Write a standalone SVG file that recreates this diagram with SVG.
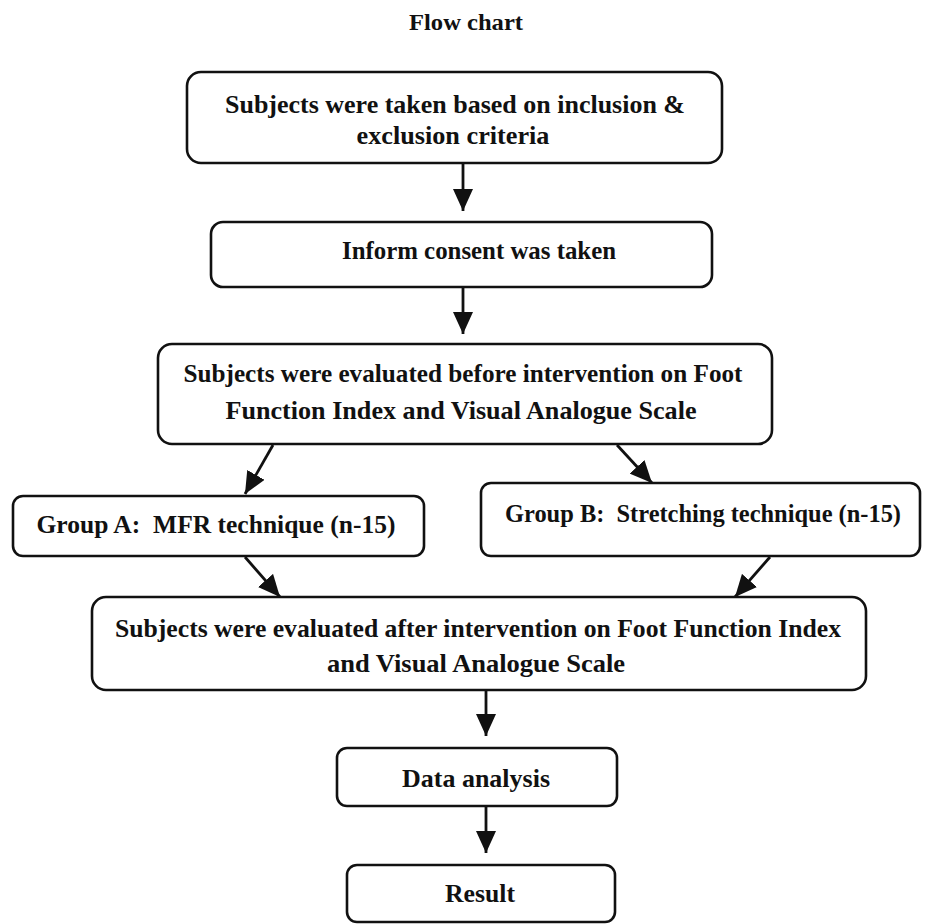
<svg xmlns="http://www.w3.org/2000/svg" width="925" height="924" viewBox="0 0 925 924">
<style>
.box{fill:#fff;stroke:#111;stroke-width:2.6}
.t{font-family:"Liberation Serif","Times New Roman",serif;font-weight:bold;font-size:26px;fill:#111;text-anchor:middle;white-space:pre}
.c{stroke:#111;stroke-width:2.8;fill:none}
</style>
<defs>
<marker id="ah" markerUnits="userSpaceOnUse" markerWidth="22" markerHeight="20" refX="22" refY="10" orient="auto" viewBox="0 0 22 20">
<path d="M0,0 L22,10 L0,20 Z" fill="#111"/>
</marker>
</defs>
<rect width="925" height="924" fill="#fff"/>
<text class="t" x="466" y="30" style="font-size:24px" textLength="114" lengthAdjust="spacingAndGlyphs">Flow chart</text>
<g id="n1">
<rect class="box" x="187" y="72" width="535" height="91" rx="14"/>
<text class="t" x="455" y="113" textLength="460" lengthAdjust="spacingAndGlyphs">Subjects were taken based on inclusion &amp;</text>
<text class="t" x="453" y="144" textLength="193" lengthAdjust="spacingAndGlyphs">exclusion criteria</text>
</g>
<g id="n2">
<rect class="box" x="211" y="222" width="501" height="65" rx="12"/>
<text class="t" x="479" y="259" textLength="274" lengthAdjust="spacingAndGlyphs">Inform consent was taken</text>
</g>
<g id="n3">
<rect class="box" x="158" y="344" width="614" height="100" rx="14"/>
<text class="t" x="463" y="382" textLength="559" lengthAdjust="spacingAndGlyphs">Subjects were evaluated before intervention on Foot</text>
<text class="t" x="461" y="419" textLength="471" lengthAdjust="spacingAndGlyphs">Function Index and Visual Analogue Scale</text>
</g>
<g id="nA">
<rect class="box" x="13" y="496" width="411" height="60" rx="10"/>
<text class="t" x="216" y="533" textLength="359" lengthAdjust="spacingAndGlyphs">Group A:  MFR technique (n-15)</text>
</g>
<g id="nB">
<rect class="box" x="481" y="483" width="439" height="73" rx="10"/>
<text class="t" x="703" y="522" textLength="396" lengthAdjust="spacingAndGlyphs">Group B:  Stretching technique (n-15)</text>
</g>
<g id="n4">
<rect class="box" x="92" y="597" width="774" height="93" rx="14"/>
<text class="t" x="478" y="637" textLength="726" lengthAdjust="spacingAndGlyphs">Subjects were evaluated after intervention on Foot Function Index</text>
<text class="t" x="476" y="672" textLength="298" lengthAdjust="spacingAndGlyphs">and Visual Analogue Scale</text>
</g>
<g id="n5">
<rect class="box" x="337" y="748" width="280" height="58" rx="10"/>
<text class="t" x="476" y="787" textLength="148" lengthAdjust="spacingAndGlyphs">Data analysis</text>
</g>
<g id="n6">
<rect class="box" x="347" y="865" width="268" height="57" rx="10"/>
<text class="t" x="480" y="902" textLength="70" lengthAdjust="spacingAndGlyphs">Result</text>
</g>
<g id="connectors">
<line class="c" x1="463" y1="163" x2="463" y2="211" marker-end="url(#ah)"/>
<line class="c" x1="463" y1="287" x2="463" y2="334" marker-end="url(#ah)"/>
<line class="c" x1="273" y1="445" x2="245" y2="494" marker-end="url(#ah)"/>
<line class="c" x1="617" y1="445" x2="652" y2="483" marker-end="url(#ah)"/>
<line class="c" x1="245" y1="557" x2="280" y2="597" marker-end="url(#ah)"/>
<line class="c" x1="770" y1="557" x2="735" y2="597" marker-end="url(#ah)"/>
<line class="c" x1="486" y1="690" x2="486" y2="736" marker-end="url(#ah)"/>
<line class="c" x1="486" y1="806" x2="486" y2="853" marker-end="url(#ah)"/>
</g>
</svg>
